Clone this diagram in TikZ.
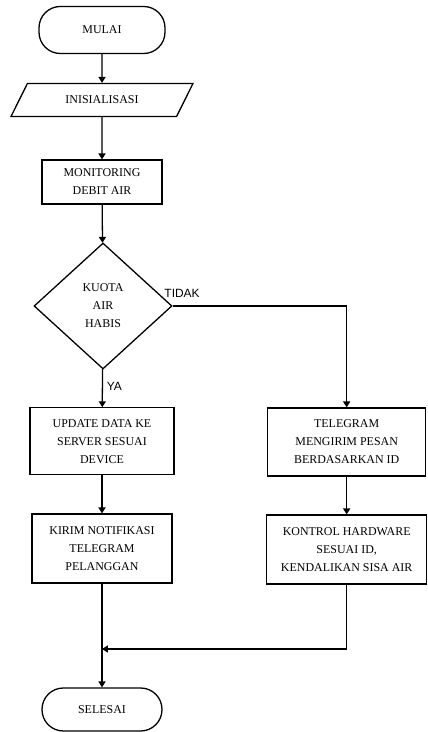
\documentclass[tikz,border=0pt]{standalone}
\usepackage{fontspec}
\setmainfont{Liberation Serif}
\newfontfamily\lblfont{Liberation Sans}
\usetikzlibrary{arrows.meta,positioning,shapes.geometric}
\newcommand{\fcfont}{\fontsize{10.2}{15.3}\selectfont}
\tikzset{
  box/.style={rectangle,draw=black,line width=1.1pt,text=black,
              font=\fcfont,align=center,inner sep=2pt},
  term/.style={rectangle,rounded corners=0.64cm,draw=black,line width=1.1pt,
               font=\fcfont,align=center},
  io/.style={trapezium,trapezium left angle=44,trapezium right angle=136,
             trapezium stretches body,draw=black,line width=1.1pt,font=\fcfont,
             minimum width=5.46cm,minimum height=0.99cm},
  dec/.style={diamond,draw=black,line width=1.1pt,font=\fcfont,align=center,
              minimum width=4.14cm,minimum height=3.78cm,inner sep=0pt},
  lbl/.style={font=\lblfont\fontsize{10.2}{12}\selectfont,inner sep=1pt},
  arr/.style={-{Triangle[length=5pt,width=6pt]},line width=1.1pt,#1},
  arr/.default=black,
}
\begin{document}
\begin{tikzpicture}
    \useasboundingbox (0,0) rectangle (12.81,21.96);
    % kolom kiri
    \node[term,minimum width=3.78cm,minimum height=1.41cm] (mulai) at (3.06,21.06) {MULAI};
    \node[io] (inisial) at (3.06,18.96) {INISIALISASI};
    \node[box,minimum width=3.6cm,minimum height=1.32cm] (monitor) at (3.06,16.5) {MONITORING\\DEBIT AIR};
    \node[dec] (kuota) at (3.09,12.78) {KUOTA\\AIR\\HABIS};
    \node[box,minimum width=4.32cm,minimum height=2.01cm] (update) at (3.06,8.72) {UPDATE DATA KE\\SERVER SESUAI\\DEVICE};
    \node[box,minimum width=4.2cm,minimum height=2.07cm] (kirim) at (3.06,5.505) {KIRIM NOTIFIKASI\\TELEGRAM\\PELANGGAN};
    \node[term,minimum width=3.6cm,minimum height=1.29cm] (selesai) at (3.06,0.675) {SELESAI};
    % kolom kanan
    \node[box,minimum width=4.74cm,minimum height=2.04cm] (telegram) at (10.4,8.7) {TELEGRAM\\MENGIRIM PESAN\\BERDASARKAN ID};
    \node[box,minimum width=4.8cm,minimum height=2.07cm] (kontrol) at (10.4,5.475) {KONTROL HARDWARE\\SESUAI ID,\\KENDALIKAN SISA AIR};
    \coordinate (gabung) at (3.06,2.49);
    % alur
    \draw[arr] (mulai) -- (inisial);
    \draw[arr] (inisial) -- (monitor);
    \draw[arr] (monitor) -- (kuota);
    \draw[arr] (kuota) -- node[lbl,pos=0.45,right,xshift=0.08cm]{YA} (update);
    \draw[arr] (kuota.east) -| node[lbl,pos=0,anchor=south west,xshift=-0.3cm,yshift=0.2cm]{TIDAK} (telegram.north);
    \draw[arr] (update) -- (kirim);
    \draw[arr] (telegram) -- (kontrol);
    \draw[arr] (kirim) -- (selesai);
    \draw[arr] (kontrol.south) |- (gabung);
  \end{tikzpicture}
\end{document}
